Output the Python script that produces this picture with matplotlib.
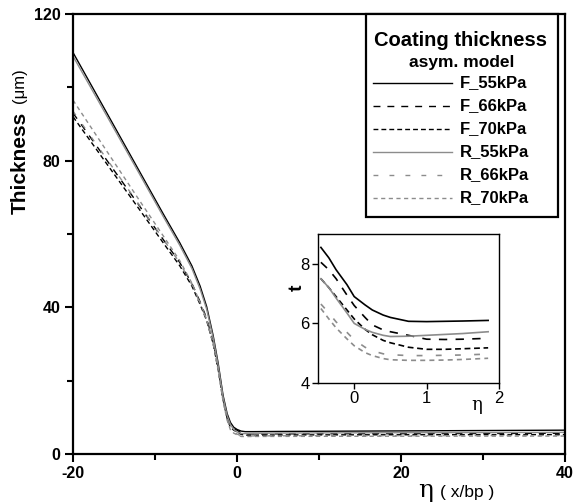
import matplotlib
matplotlib.use("Agg")
import matplotlib.pyplot as plt
from matplotlib.lines import Line2D
from matplotlib.patches import Rectangle
from matplotlib.ticker import MultipleLocator

plt.rcParams['font.family'] = ['Liberation Sans', 'DejaVu Sans']
plt.rcParams['axes.unicode_minus'] = False

# ---- full profile ----
eta_main = [-20, -16, -12, -9, -7, -5.5, -4.5, -3.7, -2.9, -2.3, -1.7, -1.2,
            -0.8, -0.4, 0, 0.5, 1, 2, 5, 10, 20, 30, 40]
F_55 = [109.5, 93.5, 77.5, 65.5, 57.7, 51.3, 45.8, 40.2, 32.2, 24.8, 16.0, 11.0,
        8.6, 7.3, 6.7, 6.25, 6.1, 6.1, 6.15, 6.2, 6.3, 6.4, 6.5]
R_55 = [108.5, 92.7, 76.8, 64.8, 57.0, 50.6, 45.0, 39.5, 31.6, 24.2, 15.5, 10.5,
        8.0, 6.7, 6.0, 5.6, 5.57, 5.65, 5.7, 5.75, 5.8, 5.85, 5.9]
F_66 = [93.0, 80.5, 68.0, 58.5, 52.3, 46.5, 41.5, 37.0, 30.5, 23.6, 15.2, 10.2,
        7.8, 6.9, 6.5, 5.75, 5.5, 5.48, 5.5, 5.52, 5.55, 5.6, 5.65]
F_70 = [92.0, 79.5, 67.0, 57.6, 51.4, 45.8, 40.8, 36.4, 30.0, 23.1, 14.8, 9.7,
        7.3, 6.5, 6.0, 5.35, 5.15, 5.15, 5.2, 5.22, 5.25, 5.28, 5.3]
R_66 = [93.5, 80.8, 68.2, 58.6, 52.2, 46.2, 41.1, 36.6, 30.1, 23.0, 14.6, 9.4,
        6.8, 5.9, 5.45, 4.95, 4.92, 4.94, 4.96, 4.98, 5.0, 5.02, 5.05]
R_70 = [96.5, 83.0, 69.5, 59.5, 52.8, 46.6, 41.3, 36.7, 30.1, 22.9, 14.4, 9.2,
        6.6, 5.7, 5.25, 4.78, 4.76, 4.78, 4.8, 4.82, 4.85, 4.88, 4.9]

# ---- close-up near the meniscus ----
eta_in = [-0.46, -0.35, -0.25, -0.1, 0, 0.15, 0.25, 0.4, 0.5, 0.75, 1.0, 1.25, 1.5, 1.85]
F_55_in = [8.55, 8.2, 7.8, 7.3, 6.9, 6.62, 6.45, 6.28, 6.2, 6.07, 6.06, 6.07, 6.08, 6.1]
F_66_in = [8.05, 7.8, 7.5, 6.95, 6.6, 6.2, 5.95, 5.78, 5.72, 5.6, 5.47, 5.46, 5.47, 5.5]
F_70_in = [7.5, 7.2, 6.9, 6.45, 6.15, 5.8, 5.62, 5.43, 5.35, 5.2, 5.13, 5.13, 5.15, 5.18]
R_55_in = [7.5, 7.2, 6.85, 6.35, 6.0, 5.8, 5.7, 5.6, 5.56, 5.57, 5.6, 5.63, 5.66, 5.72]
R_66_in = [6.65, 6.35, 6.05, 5.7, 5.45, 5.2, 5.08, 4.98, 4.95, 4.92, 4.92, 4.93, 4.94, 4.97]
R_70_in = [6.5, 6.15, 5.85, 5.48, 5.25, 5.02, 4.92, 4.82, 4.78, 4.76, 4.76, 4.77, 4.79, 4.83]

labels = ["F_55kPa", "F_66kPa", "F_70kPa", "R_55kPa", "R_66kPa", "R_70kPa"]
GRAY = "0.55"
styles = [
    dict(color="black", linestyle="-"),
    dict(color="black", linestyle=(0, (5, 5))),
    dict(color="black", linestyle=(0, (3.5, 2.2))),
    dict(color=GRAY, linestyle="-"),
    dict(color=GRAY, linestyle=(0, (3.5, 8))),
    dict(color=GRAY, linestyle=(0, (3, 2.5))),
]
main_series = [F_55, F_66, F_70, R_55, R_66, R_70]
inset_series = [F_55_in, F_66_in, F_70_in, R_55_in, R_66_in, R_70_in]

W, H = 586, 504
fig = plt.figure(figsize=(W / 100, H / 100), dpi=100)

def box(l, t, r, b):
    return [l / W, 1 - b / H, (r - l) / W, (b - t) / H]

ax = fig.add_axes(box(73, 14, 565, 454))
for y, st in zip(main_series, styles):
    ax.plot(eta_main, y, lw=1.0, **st)

ax.set_xlim(-20, 40)
ax.set_ylim(0, 120)
ax.xaxis.set_major_locator(MultipleLocator(20))
ax.xaxis.set_minor_locator(MultipleLocator(10))
ax.yaxis.set_major_locator(MultipleLocator(40))
ax.yaxis.set_minor_locator(MultipleLocator(20))
for s in ax.spines.values():
    s.set_linewidth(1.6)
ax.tick_params(which="major", direction="out", length=6, width=1.5,
               labelsize=11.5, pad=3)
ax.tick_params(which="minor", direction="out", length=4, width=1.5)
for lab in ax.get_xticklabels() + ax.get_yticklabels():
    lab.set_fontweight("bold")

# axis titles
fig.text(20 / W, 1 - 163 / H, "Thickness", rotation=90, fontsize=15,
         fontweight="bold", ha="center", va="center")
fig.text(20 / W, 1 - 86 / H, "(\u03bcm)", rotation=90, fontsize=12,
         ha="center", va="center")
fig.text(426 / W, 1 - 497 / H, "\u03b7", fontsize=18, ha="center",
         va="baseline", family=["DejaVu Serif"])
fig.text(440 / W, 1 - 492 / H, "( x/bp )", fontsize=12.5, ha="left", va="center")

# legend drawn in axes fraction coordinates
def fx(px):
    return (px - 73) / (565 - 73)

def fy(py):
    return (454 - py) / (454 - 14)

ax.add_patch(Rectangle((fx(366), fy(217)), fx(558) - fx(366), fy(14) - fy(217),
                       transform=ax.transAxes, facecolor="white",
                       edgecolor="black", lw=1.6, zorder=5, clip_on=False))
ax.text(fx(461), fy(40), "Coating thickness", transform=ax.transAxes,
        fontsize=14.5, fontweight="bold", ha="center", va="center", zorder=6)
ax.text(fx(462), fy(62), "asym. model", transform=ax.transAxes,
        fontsize=12.5, fontweight="bold", ha="center", va="center", zorder=6)
entry_y = [83, 106, 129, 152, 175, 198]
for lab, st, py in zip(labels, styles, entry_y):
    ax.add_line(Line2D([fx(373), fx(452)], [fy(py), fy(py)], lw=1.0,
                       transform=ax.transAxes, zorder=6, **st))
    ax.text(fx(460), fy(py), lab, transform=ax.transAxes, fontsize=12,
            fontweight="bold", ha="left", va="center", zorder=6)

# inset
axi = fig.add_axes(box(318, 234, 499, 383))
for y, st in zip(inset_series, styles):
    axi.plot(eta_in, y, lw=1.2, **st)
axi.set_xlim(-0.5, 2)
axi.set_ylim(4, 9)
axi.set_xticks([0, 1, 2])
axi.set_yticks([4, 6, 8])
for s in axi.spines.values():
    s.set_linewidth(1.0)
axi.tick_params(direction="out", length=4, width=1.0, labelsize=12, pad=2)
fig.text(297 / W, 1 - 288 / H, "t", rotation=90, fontsize=14,
         fontweight="bold", ha="center", va="center")
fig.text(477 / W, 1 - 405 / H, "\u03b7", fontsize=13, ha="center", va="center",
         family=["DejaVu Serif"])

fig.savefig("out.png", dpi=100)
